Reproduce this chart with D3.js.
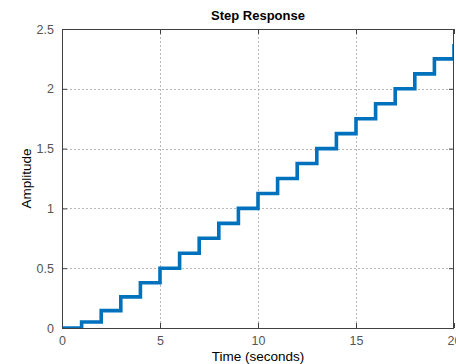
<!DOCTYPE html>
<html><head><meta charset="utf-8">
<script src="https://cdn.jsdelivr.net/npm/d3@7"></script>
<style>body{margin:0;background:#fff}svg{display:block}</style>
</head><body>
<svg id="c" width="456" height="364"></svg>
<script>
const times = [0,1,2,3,4,5,6,7,8,9,10,11,12,13,14,15,16,17,18,19,20];
const amplitude = [0,0.05,0.145,0.26,0.378,0.5,0.625,0.75,0.875,1.0,1.125,1.25,1.375,1.5,1.625,1.75,1.875,2.0,2.125,2.25,2.375];
const xTicks = [0,5,10,15,20];
const yTicks = [0,0.5,1,1.5,2,2.5];
const title = "Step Response";
const xLabel = "Time (seconds)";
const yLabel = "Amplitude";

const svg = d3.select("#c");
const m = {l:62, r:454, t:29, b:328};
const x = d3.scaleLinear().domain([0,20]).range([m.l, m.r]);
const y = d3.scaleLinear().domain([0,2.5]).range([m.b, m.t]);
const font = "'Liberation Sans', Arial, Helvetica, sans-serif";
const axisCol = "#404040";

// grid
const g = svg.append("g");
g.selectAll(".gx").data(xTicks.slice(1,-1)).enter().append("line")
  .attr("x1",d=>x(d)+0.5).attr("x2",d=>x(d)+0.5).attr("y1",m.t).attr("y2",m.b)
  .attr("stroke","#b8b8b8").attr("stroke-width",1).attr("stroke-dasharray","2,2");
g.selectAll(".gy").data(yTicks.slice(1,-1)).enter().append("line")
  .attr("y1",d=>Math.round(y(d))+0.5).attr("y2",d=>Math.round(y(d))+0.5).attr("x1",m.l).attr("x2",m.r)
  .attr("stroke","#b8b8b8").attr("stroke-width",1).attr("stroke-dasharray","2,2");

// step line
svg.append("clipPath").attr("id","clp").append("rect")
  .attr("x",m.l).attr("y",m.t).attr("width",m.r-m.l).attr("height",m.b-m.t);
const line = d3.line().x(d=>x(d[0])).y(d=>y(d[1])).curve(d3.curveStepAfter);
svg.append("path").datum(times.map((t,i)=>[t,amplitude[i]]))
  .attr("d",line).attr("fill","none").attr("stroke","#0072BD")
  .attr("stroke-width",3.6).attr("clip-path","url(#clp)");

// axes with inner ticks
const tl = 5;
const axB = d3.axisBottom(x).tickValues(xTicks).tickSize(-tl).tickPadding(8).tickFormat(d3.format("d"));
const axT = d3.axisTop(x).tickValues(xTicks).tickSize(-tl).tickFormat("");
const axL = d3.axisLeft(y).tickValues(yTicks).tickSize(-tl).tickPadding(8).tickFormat(d=>String(d));
const axR = d3.axisRight(y).tickValues(yTicks).tickSize(-tl).tickFormat("");
function style(sel){
  sel.selectAll("path").attr("stroke",axisCol);
  sel.selectAll("line").attr("stroke",axisCol);
  sel.selectAll("text").attr("fill","#555").style("font-family",font).style("font-size","12.5px");
}
svg.append("g").attr("transform",`translate(0,${m.b})`).call(axB).call(style);
svg.append("g").attr("transform",`translate(0,${m.t})`).call(axT).call(style);
svg.append("g").attr("transform",`translate(${m.l},0)`).call(axL).call(style);
svg.append("g").attr("transform",`translate(${m.r},0)`).call(axR).call(style);
svg.selectAll(".domain").attr("d",null);
svg.append("rect").attr("x",m.l+0.5).attr("y",m.t+0.5).attr("width",m.r-m.l-1).attr("height",m.b-m.t)
  .attr("fill","none").attr("stroke",axisCol).attr("stroke-width",1);

// labels
svg.append("text").attr("x",(m.l+m.r)/2).attr("y",20).attr("text-anchor","middle")
  .style("font-family",font).style("font-size","13px").style("font-weight","bold").text(title);
svg.append("text").attr("x",(m.l+m.r)/2).attr("y",361).attr("text-anchor","middle")
  .style("font-family",font).style("font-size","13.5px").text(xLabel);
svg.append("text").attr("transform",`translate(31,${(m.t+m.b)/2}) rotate(-90)`).attr("text-anchor","middle")
  .style("font-family",font).style("font-size","13.5px").text(yLabel);
</script>
</body></html>
